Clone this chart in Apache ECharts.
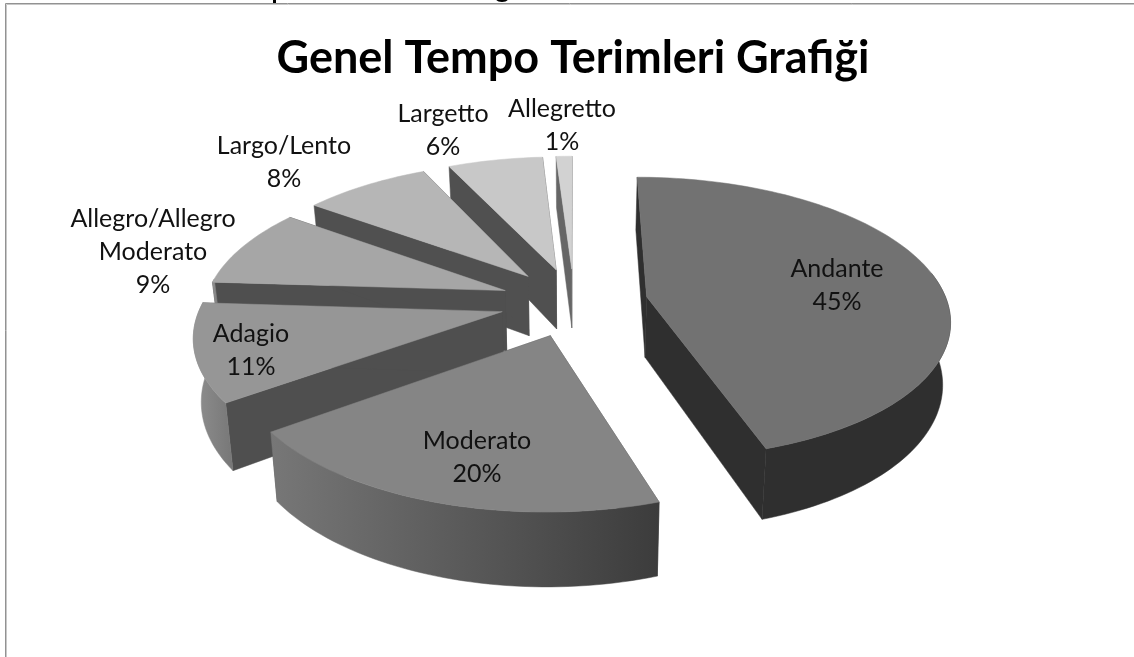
<!DOCTYPE html>
<html><head><meta charset="utf-8">
<style>html,body{margin:0;padding:0;background:#fff}#c{width:1134px;height:657px}</style>
<script src="https://cdn.jsdelivr.net/npm/echarts@6/dist/echarts.min.js"></script>
</head><body><div id="c"></div>
<script>
const categories = ['Andante','Moderato','Adagio','Allegro/Allegro\nModerato','Largo/Lento','Largetto','Allegretto'];
const shares = [45,20,11,9,8,6,1];
const titleText = 'Genel Tempo Terimleri Grafiği';

const topColors  = ['#727272','#858585','#969696','#a6a6a6','#b6b6b6','#c8c8c8','#d2d2d2'];
const sideColors = ['#2f2f2f','#505050','#4f4f4f','#4f4f4f','#505050','#505050','#666666'];
const rimFrom    = ['#2f2f2f','#777777','#8f8f8f','#8f8f8f','#8f8f8f','#8f8f8f','#8f8f8f'];
const rimTo      = ['#2f2f2f','#3c3c3c','#777777','#777777','#777777','#777777','#777777'];
const labelAt    = [[837,285],[477,457],[251,350],[153,252],[284,162],[443,130],[562,125]];

const CX=574, CY=302, R=300.5, EXPLODE=0.246, TILT=0.462, PERSP=0.1496, DEPTH=61, BOTTOM=0.979;
const RIM_START=80/180*Math.PI, RIM_END=275/180*Math.PI;
const total = shares.reduce((a,b)=>a+b,0);
function proj(u,v,low){
  const s=1/(1-PERSP*v);
  const shrink=low?BOTTOM:1;
  return [CX+R*u*s*shrink, CY+R*v*TILT*s+(low?DEPTH*s:0)];
}
function sliceGeom(i){
  let before=0; for(let k=0;k<i;k++) before+=shares[k];
  const a0=before/total*2*Math.PI, a1=(before+shares[i])/total*2*Math.PI, m=(a0+a1)/2;
  const ou=EXPLODE*Math.sin(m), ov=-EXPLODE*Math.cos(m);
  const at=(a,low)=>proj(ou+Math.sin(a),ov-Math.cos(a),low);
  const apex=low=>proj(ou,ov,low);
  const arc=(from,to,low,rev)=>{const n=Math.max(6,Math.round((to-from)*40));const p=[];
    for(let j=0;j<=n;j++){const t=rev?1-j/n:j/n;p.push(at(from+(to-from)*t,low));}return p;};
  return {a0,a1,at,apex,arc};
}
function renderItem(params,api){
  const i=api.value(0);
  const g=sliceGeom(i);
  const order=(i===0?70:(7-i)*10); // nearer slices are drawn later
  const mk=(pts,fill,zz)=>({type:'polygon',shape:{points:pts},z2:order+zz,
      style:{fill:fill,stroke:fill,lineWidth:0.5}});
  const children=[
    mk([g.apex(false),g.at(g.a0,false),g.at(g.a0,true),g.apex(true)],sideColors[i],0),
    mk([g.apex(false),g.at(g.a1,false),g.at(g.a1,true),g.apex(true)],sideColors[i],1)
  ];
  const from=Math.max(g.a0,RIM_START), to=Math.min(g.a1,RIM_END);
  if(to>from){
    const rim=[...g.arc(from,to,false,false),...g.arc(from,to,true,true)];
    const xs=rim.map(p=>p[0]);
    children.push(mk(rim,{type:'linear',x:Math.min(...xs),y:0,x2:Math.max(...xs),y2:0,global:true,
      colorStops:[{offset:0,color:rimFrom[i]},{offset:1,color:rimTo[i]}]},2));
  }
  children.push(mk([g.apex(false),...g.arc(g.a0,g.a1,false,false)],topColors[i],3));
  children.push({type:'text',z2:100,style:{x:labelAt[i][0],y:labelAt[i][1],
      text:categories[i]+'\n'+shares[i]+'%',fill:'#111',align:'center',verticalAlign:'middle',
      font:'25px Lato',lineHeight:33}});
  return {type:'group',children};
}
const chart=echarts.init(document.getElementById('c'),null,{renderer:'canvas'});
chart.setOption({
  animation:false, backgroundColor:'#fff',
  title:{text:titleText,left:568,top:31,textAlign:'center',
    textStyle:{fontFamily:'Lato',fontWeight:'bold',fontSize:45,color:'#000'}},
  graphic:[
    {type:'polyline',shape:{points:[[5.5,657],[5.5,3.5],[1134,3.5]]},style:{stroke:'#929292',lineWidth:1,fill:null}},
    {type:'polyline',shape:{points:[[6.5,657],[6.5,4.5],[1134,4.5]]},style:{stroke:'#c8c8c8',lineWidth:1,fill:null}},
    {type:'rect',shape:{x:273,y:0,width:3,height:3},style:{fill:'#000'}},
    {type:'ellipse',shape:{cx:502,cy:-1,rx:6,ry:3},style:{fill:'#000'}}
  ],
  series:[{type:'custom',coordinateSystem:'none',renderItem,
    data:shares.map((v,i)=>[i,v]),clip:false,silent:true}]
});
</script></body></html>
